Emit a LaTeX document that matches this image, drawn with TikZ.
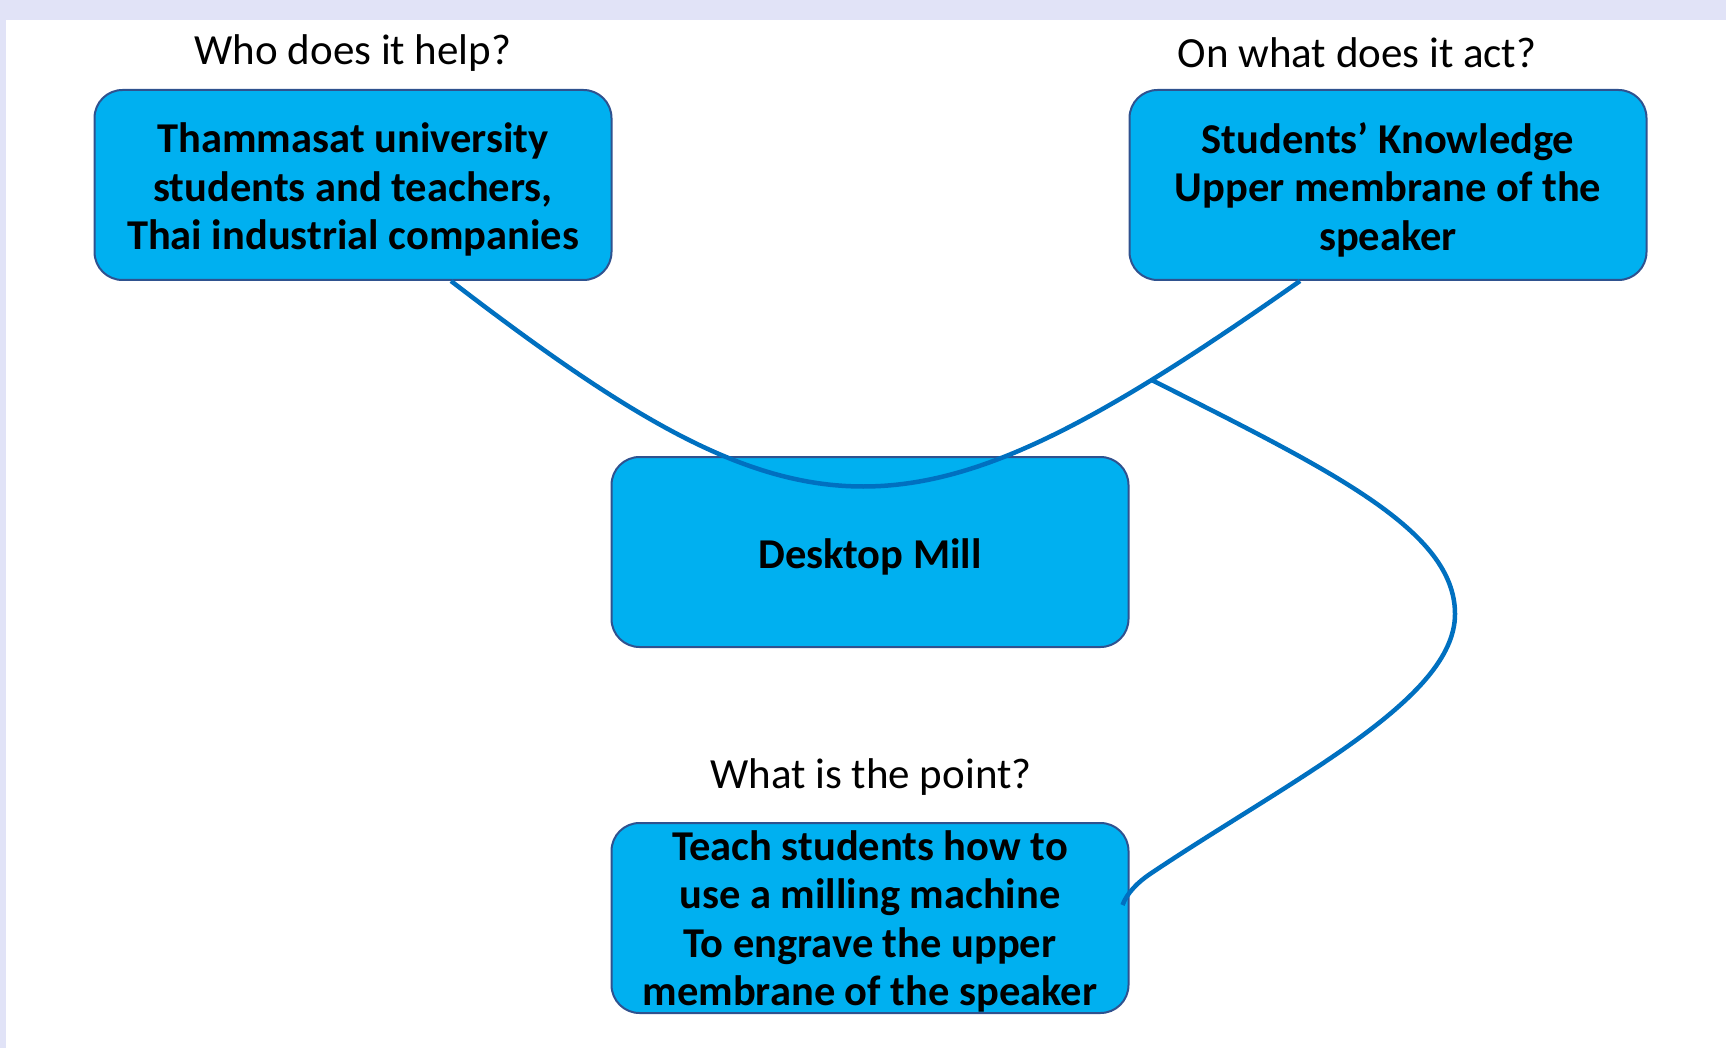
\documentclass[tikz,border=0pt]{standalone}
\usepackage{fontspec}
\setmainfont{Carlito}
\definecolor{boxfill}{HTML}{00B0F0}
\definecolor{boxline}{HTML}{2F528F}
\definecolor{connblue}{HTML}{0070C0}
\definecolor{bgband}{HTML}{E1E3F7}
\newcommand{\lowertext}[2]{\raisebox{-#1}[\height][\depth]{#2}}
\begin{document}
\begin{tikzpicture}[x=1pt,y=-1pt,
  box/.style={draw=boxline, line width=2pt, fill=boxfill, rounded corners=28pt,
    minimum width=517pt, minimum height=190pt, align=center, inner sep=0pt,
    font=\bfseries\fontsize{42.5}{48.5}\selectfont},
  qlabel/.style={font=\fontsize{43}{50}\selectfont, inner sep=0pt},
  conn/.style={draw=connblue, line width=4.5pt}]
\useasboundingbox (0,0) rectangle (1726,1048);
\fill[bgband] (0,0) rectangle (1726,20);
\fill[bgband] (0,0) rectangle (6,1048);
% question labels
\node[qlabel] (qhelp) at (353,53) {Who does it help?};
\node[qlabel] (qact) at (1357,53) {On what does it act?};
\node[qlabel] (qpoint) at (871,777) {What is the point?};
% boxes
\node[box] (help) at (353,185) {\lowertext{4.5pt}{\parbox{500pt}{\centering Thammasat university\\students and teachers,\\Thai industrial companies}}};
\node[box] (act) at (1388,185) {\lowertext{4.5pt}{\parbox{500pt}{\centering Students’ Knowledge\\Upper membrane of the\\speaker}}};
\node[box] (mill) at (870,552) {\lowertext{4.5pt}{Desktop Mill}};
\node[box] (point) at (870,918) {\lowertext{3.5pt}{\parbox{510pt}{\centering Teach students how to\\use a milling machine\\To engrave the upper\\membrane of the speaker}}};
% connectors
\draw[conn] ([xshift=98pt]help.south) .. controls (808,555) and (910,555) .. ([xshift=-88pt]act.south) coordinate[pos=0.86] (j);
\draw[conn] (j) .. controls (1330,470) and (1455,530) .. (1455,614)
  .. controls (1455,700) and (1290,780) .. (1150,874)
  .. controls (1138,882) and (1127,893) .. ([xshift=-7pt,yshift=13pt]point.east);
\end{tikzpicture}
\end{document}
